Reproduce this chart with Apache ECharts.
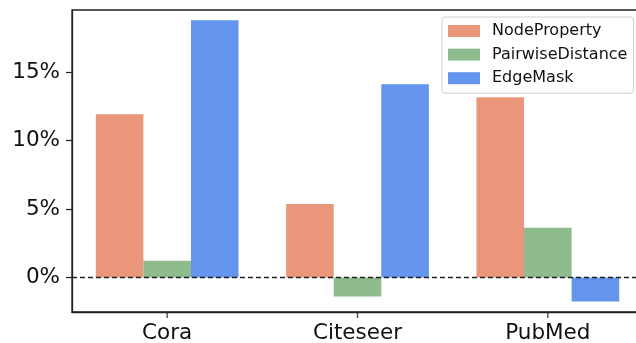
<!DOCTYPE html>
<html>
<head>
<meta charset="utf-8">
<script src="https://cdn.jsdelivr.net/npm/echarts@6/dist/echarts.min.js"></script>
<style>
  html, body { margin: 0; padding: 0; background: #fff; }
  #chart { width: 636px; height: 343px; }
</style>
</head>
<body>
<div id="chart"></div>
<script>
// Relative improvement (%) per dataset for each pretext task
const datasets = ['Cora', 'Citeseer', 'PubMed'];
const nodeProperty = [11.92, 5.37, 13.16];
const pairwiseDistance = [1.22, -1.38, 3.62];
const edgeMask = [18.77, 14.11, -1.75];
const yTicks = [0, 5, 10, 15];

const Y_MIN = -2.52;
const Y_MAX = 19.52;
const FONT = 'DejaVu Sans';
const SPINE = { color: '#222', width: 1.3 };

const chart = echarts.init(document.getElementById('chart'), null, { renderer: 'canvas' });

function barSeries(name, data, color) {
  return {
    name: name,
    type: 'bar',
    data: data,
    barWidth: '25%',
    barGap: '0%',
    itemStyle: { color: color },
    emphasis: { disabled: true }
  };
}

const series = [
  barSeries('NodeProperty', nodeProperty, '#E9967A'),
  barSeries('PairwiseDistance', pairwiseDistance, '#8FBC8F'),
  barSeries('EdgeMask', edgeMask, '#6495ED'),
  // outward tick marks under each dataset label on the bottom spine
  {
    name: 'xTicks',
    type: 'scatter',
    silent: true,
    clip: false,
    z: 5,
    symbol: 'rect',
    symbolSize: [1.4, 6],
    symbolOffset: [0, 3],
    itemStyle: { color: '#222' },
    data: datasets.map(d => [d, Y_MIN])
  }
];

// dashed zero reference line
series[2].markLine = {
  silent: true,
  symbol: ['none', 'none'],
  label: { show: false },
  lineStyle: { color: '#222', type: [5, 3], width: 1.3 },
  data: [{ yAxis: 0 }]
};

chart.setOption({
  animation: false,
  backgroundColor: '#fff',
  grid: {
    left: 72, right: -7, top: 10, bottom: 31,
    show: true,
    borderColor: '#222',
    borderWidth: 1.3,
    outerBoundsMode: 'none'
  },
  legend: {
    orient: 'vertical',
    left: 442,
    top: 17,
    padding: [6, 6, 7, 6],
    itemWidth: 32,
    itemHeight: 12,
    itemGap: 7.6,
    backgroundColor: '#fff',
    borderColor: '#d0d0d0',
    borderWidth: 1,
    borderRadius: 3,
    icon: 'rect',
    textStyle: { fontFamily: FONT, fontSize: 16, color: '#111', padding: [0, 0, 0, 7] },
    data: ['NodeProperty', 'PairwiseDistance', 'EdgeMask']
  },
  xAxis: {
    type: 'category',
    data: datasets,
    position: 'bottom',
    axisLine: { show: true, onZero: false, lineStyle: SPINE },
    axisTick: { show: false },
    axisLabel: { fontFamily: FONT, fontSize: 21.5, color: '#111', margin: 10, interval: 0 },
    splitLine: { show: false }
  },
  yAxis: {
    type: 'value',
    min: Y_MIN,
    max: Y_MAX,
    axisLine: { show: true, lineStyle: SPINE },
    axisTick: { show: true, length: 6, customValues: yTicks, lineStyle: { color: '#222', width: 1.2 } },
    axisLabel: {
      fontFamily: FONT, fontSize: 21.5, color: '#111', margin: 12,
      customValues: yTicks,
      formatter: '{value}%'
    },
    splitLine: { show: false }
  },
  series: series
});
</script>
</body>
</html>
